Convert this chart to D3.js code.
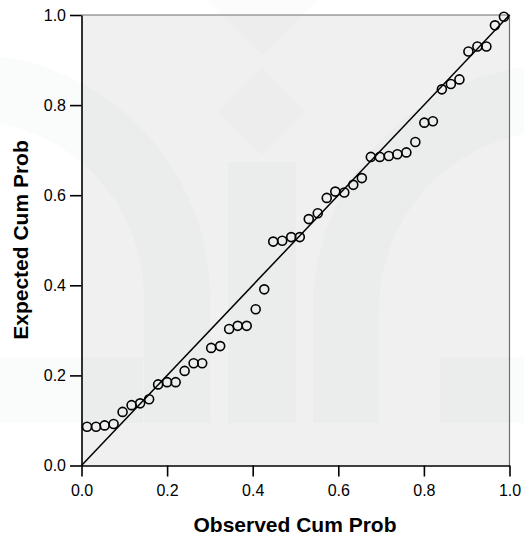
<!DOCTYPE html>
<html>
<head>
<meta charset="utf-8">
<script src="https://cdn.jsdelivr.net/npm/d3@7"></script>
<style>
  html, body { margin: 0; padding: 0; background: #ffffff; }
  svg { display: block; }
  text { font-family: "Liberation Sans", Arial, Helvetica, sans-serif; }
</style>
</head>
<body>
<script>
// ---------- data ----------
const observedCumProb = [
  0.013, 0.034, 0.054, 0.075, 0.096, 0.117, 0.137, 0.158,
  0.179, 0.200, 0.220, 0.241, 0.262, 0.282, 0.303, 0.324,
  0.345, 0.365, 0.386, 0.407, 0.427, 0.448, 0.469, 0.490,
  0.510, 0.531, 0.552, 0.573, 0.593, 0.614, 0.635, 0.655,
  0.676, 0.697, 0.718, 0.738, 0.759, 0.780, 0.801, 0.821,
  0.842, 0.863, 0.883, 0.904, 0.925, 0.946, 0.966, 0.987
];
const expectedCumProb = [
  0.086, 0.086, 0.089, 0.092, 0.119, 0.134, 0.138, 0.147,
  0.180, 0.185, 0.185, 0.210, 0.227, 0.227, 0.261, 0.265,
  0.303, 0.310, 0.310, 0.347, 0.391, 0.497, 0.499, 0.507,
  0.507, 0.547, 0.560, 0.594, 0.608, 0.606, 0.623, 0.638,
  0.685, 0.685, 0.687, 0.691, 0.695, 0.718, 0.761, 0.764,
  0.835, 0.847, 0.857, 0.919, 0.930, 0.930, 0.977, 0.996
];
const tickValues = [0.0, 0.2, 0.4, 0.6, 0.8, 1.0];
const xTitle = "Observed Cum Prob";
const yTitle = "Expected Cum Prob";

// ---------- layout ----------
const W = 524, H = 537;
const svg = d3.select("body").append("svg").attr("width", W).attr("height", H);

const x = d3.scaleLinear().domain([0, 1]).range([81.5, 509.5]);
const y = d3.scaleLinear().domain([0, 1]).range([465.5, 15]);

// plot background
svg.append("rect")
  .attr("x", x(0)).attr("y", y(1))
  .attr("width", x(1) - x(0)).attr("height", y(0) - y(1))
  .attr("fill", "#f0f0f0");

// faint watermark
const wm = svg.append("g").attr("fill", "rgb(60,100,100)").attr("fill-opacity", 0.028);
function arch(cx, cy, R, r, bottom) {
  return `M${cx - R},${bottom} L${cx - R},${cy} A${R},${R} 0 0 1 ${cx + R},${cy} L${cx + R},${bottom} ` +
         `L${cx + r},${bottom} L${cx + r},${cy} A${r},${r} 0 0 0 ${cx - r},${cy} L${cx - r},${bottom} Z`;
}
wm.append("path").attr("d", arch(-34, 298, 244, 178, 423));
wm.append("path").attr("d", arch(557, 309, 244, 178, 423));
wm.append("rect").attr("x", 0).attr("y", 357).attr("width", 143).attr("height", 66);
wm.append("rect").attr("x", 440).attr("y", 357).attr("width", 84).attr("height", 66);
wm.append("rect").attr("x", 228).attr("y", 162).attr("width", 68).attr("height", 261);
const beige = svg.append("g").attr("fill", "rgb(150,120,80)").attr("fill-opacity", 0.018);
beige.append("path").attr("d", "M262,67 L306,111 L262,155 L218,111 Z");
beige.append("path").attr("d", "M262,-55 L317,0 L262,55 L207,0 Z");

// frame (top/right)
svg.append("path")
  .attr("d", `M${x(0)},${y(1)} H${x(1)} V${y(0)}`)
  .attr("fill", "none").attr("stroke", "#6e6e6e").attr("stroke-width", 1.2);

// reference line
svg.append("line")
  .attr("x1", x(0)).attr("y1", y(0)).attr("x2", x(1)).attr("y2", y(1))
  .attr("stroke", "#000").attr("stroke-width", 1.5);

// points
svg.append("g").selectAll("circle")
  .data(observedCumProb.map((v, i) => [v, expectedCumProb[i]]))
  .join("circle")
  .attr("cx", d => x(d[0])).attr("cy", d => y(d[1]))
  .attr("r", 4.5)
  .attr("fill", "none").attr("stroke", "#000").attr("stroke-width", 1.6);

// axes
const fmt = d3.format(".1f");
const xAxis = svg.append("g").attr("transform", `translate(0,${y(0)})`)
  .call(d3.axisBottom(x).tickValues(tickValues).tickFormat(fmt).tickSize(11).tickSizeOuter(0).tickPadding(8));
const yAxis = svg.append("g").attr("transform", `translate(${x(0)},0)`)
  .call(d3.axisLeft(y).tickValues(tickValues).tickFormat(fmt).tickSize(11.5).tickSizeOuter(0).tickPadding(4));
[xAxis, yAxis].forEach(a => {
  a.select(".domain").attr("stroke", "#000").attr("stroke-width", 1.6);
  a.selectAll(".tick line").attr("stroke", "#000").attr("stroke-width", 1.6);
  a.selectAll(".tick text").attr("fill", "#000")
    .style("font-family", '"Liberation Sans", Arial, sans-serif').style("font-size", "16px");
});

// titles
svg.append("text")
  .attr("x", 295).attr("y", 532)
  .attr("text-anchor", "middle")
  .style("font-size", "21px").style("font-weight", "bold")
  .text(xTitle);
svg.append("text")
  .attr("transform", "translate(28,240) rotate(-90)")
  .attr("text-anchor", "middle")
  .style("font-size", "21px").style("font-weight", "bold")
  .text(yTitle);
</script>
</body>
</html>
